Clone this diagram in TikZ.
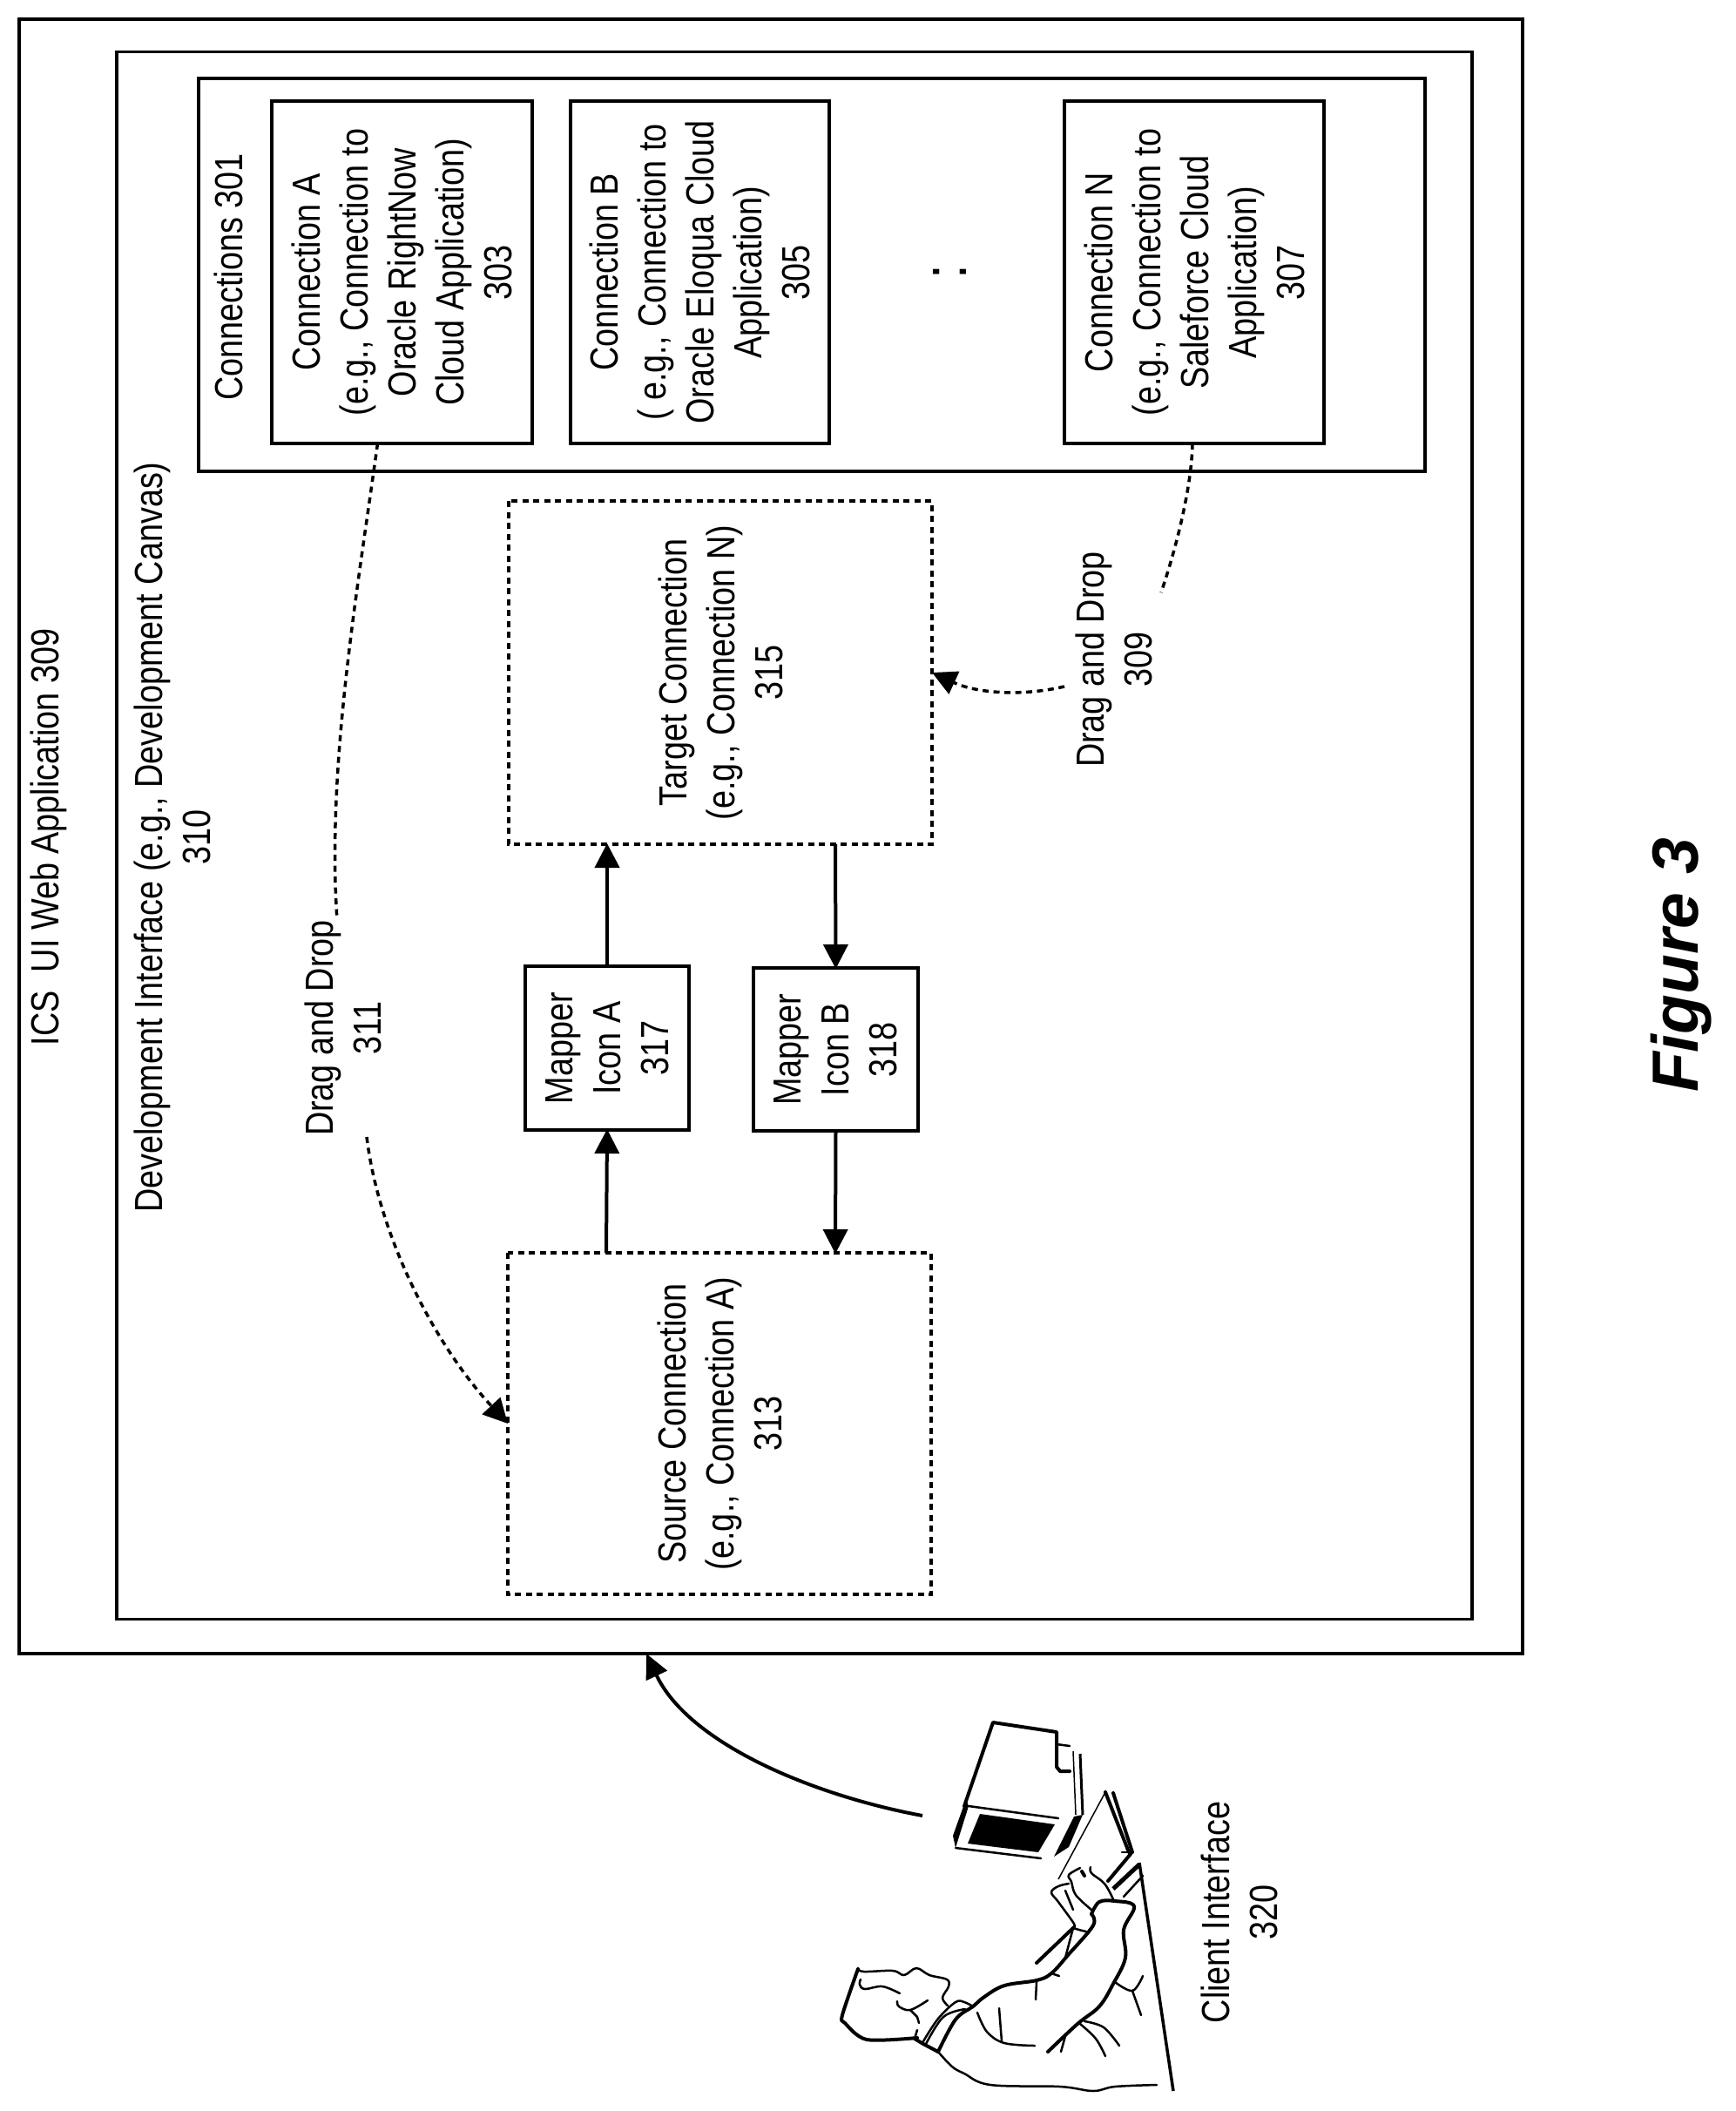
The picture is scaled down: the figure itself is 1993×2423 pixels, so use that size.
\documentclass[tikz,border=0pt]{standalone}
\usepackage{fontspec}
\setmainfont[FakeStretch=0.84]{Liberation Sans}
\newfontfamily\figfont{Liberation Sans}
\usetikzlibrary{arrows.meta,calc}
\tikzset{
 box/.style={draw,line width=3.5pt,rotate=90,inner sep=0pt,outer sep=0pt,align=center},
 dropbox/.style={box,line width=4pt,dash pattern=on 7pt off 5.5pt},
 label/.style={rotate=90,inner sep=0pt,align=center},
 flow/.style={line width=4pt,-{Triangle[length=28pt,width=28pt]},shorten >=-1pt},
 drag/.style={line width=3.5pt,dash pattern=on 7pt off 5.5pt},
 sketch/.style={line width=2.5pt,line cap=round,line join=round},
 thick sketch/.style={line width=4pt,line cap=round,line join=round}
}
\begin{document}
\begin{tikzpicture}[x=1pt,y=-1pt,every node/.style={font=\fontsize{45}{55}\selectfont}]
 \useasboundingbox (0,0) rectangle (1993,2423);
 \node [box,minimum width=1876pt,minimum height=1726pt] (ics) at (885,960) {};
 \node [box,minimum width=1799pt,minimum height=1556pt] (canvas) at (912,959) {};
 \node [box,minimum width=451pt,minimum height=1408pt] (connections) at (932,315.5) {};
 \node [box,minimum width=393pt,minimum height=299pt] (conna) at (461.5,312.5)
  {Connection A\\(e.g., Connection to\\Oracle RightNow\\Cloud Application)\\303};
 \node [box,minimum width=393pt,minimum height=297pt] (connb) at (803.5,312.5)
  {Connection B\\( e.g., Connection to\\Oracle Eloqua Cloud\\Application)\\305};
 \node [box,minimum width=393pt,minimum height=298pt] (connn) at (1371,312.5)
  {Connection N\\(e.g., Connection to\\Saleforce Cloud\\Application)\\307};
 \node [dropbox,minimum width=394pt,minimum height=486pt] (target) at (827,772)
  {Target Connection\\(e.g., Connection N)\\315};
 \node [dropbox,minimum width=392pt,minimum height=486pt] (source) at (826,1634)
  {Source Connection\\(e.g., Connection A)\\313};
 \node [box,minimum width=188pt,minimum height=188pt] (mappera) at (697,1203)
  {Mapper\\Icon A\\317};
 \node [box,minimum width=187pt,minimum height=189pt] (mapperb) at (959.5,1204.5)
  {Mapper\\Icon B\\318};
 \node [label] (icslabel) at (56,961) {ICS\ \ UI Web Application 309};
 \node [label] (canvaslabel) at (198,961) {Development Interface (e.g., Development Canvas)\\310};
 \node [label] (connlabel) at (262,318) {Connections 301};
 \node [label] (droplabela) at (394,1180) {Drag and Drop\\311};
 \node [label] (droplabeln) at (1279,757) {Drag and Drop\\309};
 \node [label] (clientlabel) at (1423,2195) {Client Interface\\320};
 \node [label,font=\fontsize{72}{72}\selectfont] (more) at (1090,312) {:};
 \node [label,font=\figfont\bfseries\itshape\fontsize{75}{75}\selectfont] (figlabel) at (1930,1108) {Figure 3};

 \draw [flow] ([xshift=-130pt]source.east) -- (mappera.west);
 \draw [flow] (mappera.east) -- ([xshift=-130pt]target.west);
 \draw [flow] ([xshift=132pt]target.west) -- (mapperb.east);
 \draw [flow] (mapperb.west) -- ([xshift=133pt]source.east);

 \coordinate (dragaend) at (387,1056);
 \coordinate (dragastart) at (421,1305);
 \coordinate (dragnend) at (1333,680);
 \coordinate (dragnstart) at (1222,788);
 \coordinate (monitor) at (1059,2084);
 \draw [drag] ([xshift=-28pt]conna.west) .. controls (410,680) and (375,880) .. (dragaend);
 \draw [drag,-{Triangle[length=28pt,width=28pt]}] (dragastart) .. controls (435,1420) and (500,1545) .. (source.north);
 \draw [drag] ([xshift=-2pt]connn.west) .. controls (1368,560) and (1350,630) .. (dragnend);
 \draw [drag,-{Triangle[length=28pt,width=28pt]}] (dragnstart) .. controls (1170,800) and (1120,795) .. (target.south);
 \draw [line width=4pt,-{Triangle[length=28pt,width=26pt]}] (monitor) .. controls (930,2060) and (790,2000) .. ([xshift=-143pt]ics.west);

 \draw [thick sketch] (1107,2073) -- (1140,1977) -- (1213,1988) -- (1213,2028) -- (1217,2033) -- (1228,2033);
 \draw [sketch] (1213,2002) -- (1228,2004);
 \fill (1109,2065) -- (1094,2107) -- (1097,2121) -- (1112,2073) -- cycle;
 \draw [sketch] (1112,2073) -- (1215,2087);
 \draw [sketch] (1097,2121) -- (1195,2133);
 \fill (1125,2082) -- (1211,2094) -- (1192,2126) -- (1111,2116) -- cycle;
 \fill (1243,2083) -- (1233,2085) -- (1210,2131) -- (1227,2120) -- cycle;
 \draw [line width=1.5pt] (1232,2010) -- (1235,2083);
 \draw [line width=3pt] (1240,2013) -- (1243,2083);

 \draw [line width=1.5pt] (1215,2157) -- (1269,2057);
 \draw [thick sketch] (1269,2057) -- (1296,2126);
 \draw [thick sketch] (1278,2058) -- (1300,2126);
 \draw [sketch] (1288,2126) -- (1300,2126);
 \draw [thick sketch] (1272,2159) -- (1298,2128);
 \draw [line width=5pt] (1278,2168) -- (1308,2140);
 \draw [sketch] (1290,2177) -- (1312,2153);
 \draw [line width=3.5pt] (1308,2138) -- (1347,2400);

 \draw [sketch] plot [smooth,tension=.6] coordinates {(1252,2143) (1253,2150) (1268,2162) (1278,2180)};
 \draw [sketch] plot [smooth,tension=.6] coordinates {(1240,2144) (1227,2152) (1230,2160) (1235,2175) (1253,2192)};
 \draw [sketch] plot [smooth,tension=.6] coordinates {(1227,2162) (1215,2165) (1207,2172) (1215,2183) (1233,2208) (1233,2213) (1247,2217)};
 \draw [sketch] (1223,2170) -- (1232,2192);
 \draw [thick sketch] (1242,2148) -- (1245,2153);
 \draw [thick sketch] plot [smooth,tension=.6] coordinates {(1253,2197) (1262,2183) (1280,2182) (1302,2188) (1290,2215) (1292,2247) (1278,2277) (1262,2303) (1237,2323) (1203,2355)};
 \draw [thick sketch] plot [smooth,tension=.6] coordinates {(1253,2197) (1255,2210) (1227,2243) (1207,2265) (1190,2273) (1153,2279) (1130,2292) (1117,2303) (1097,2318) (1077,2355)};
 \draw [thick sketch] (1233,2212) -- (1190,2253);
 \draw [sketch] (1232,2213) -- (1223,2247);
 \draw [sketch] (1190,2275) -- (1189,2295);
 \draw [sketch] (1207,2265) -- (1216,2268);
 \draw [sketch] plot [smooth,tension=.6] coordinates {(1122,2310) (1133,2332) (1153,2345) (1188,2348)};
 \draw [sketch] (1147,2305) -- (1150,2343);
 \draw [sketch] plot [smooth,tension=.6] coordinates {(1280,2275) (1300,2285) (1312,2268)};
 \draw [sketch] (1300,2285) -- (1310,2313);
 \draw [sketch] plot [smooth,tension=.6] coordinates {(1240,2323) (1258,2340) (1269,2360)};
 \draw [sketch] plot [smooth,tension=.6] coordinates {(1245,2320) (1267,2327) (1285,2348)};
 \draw [sketch] (1223,2337) -- (1218,2355);
 \draw [sketch] plot [smooth,tension=.6] coordinates {(1077,2355) (1093,2372) (1107,2380) (1137,2393) (1217,2395) (1255,2400) (1280,2395) (1328,2393)};

 \draw [thick sketch] plot [smooth,tension=.5] coordinates {(985,2260) (967,2313) (970,2322) (995,2341) (1053,2339)};
 \draw [sketch] plot [smooth,tension=.6] coordinates {(985,2260) (992,2263) (1025,2262) (1038,2267) (1052,2259) (1067,2267) (1087,2272) (1089,2280) (1082,2293) (1088,2302)};
 \draw [sketch] plot [smooth,tension=.6] coordinates {(988,2272) (987,2278) (993,2283) (1013,2280) (1033,2288)};
 \draw [sketch] plot [smooth,tension=.6] coordinates {(1030,2297) (1032,2303) (1045,2307) (1065,2296)};
 \draw [sketch] (1045,2307) -- (1053,2315) -- (1055,2322);
 \draw [sketch] (1053,2330) -- (1050,2340);
 \draw [thick sketch] (1050,2340) -- (1060,2346) -- (1077,2355);
 \draw [sketch] plot [smooth,tension=.6] coordinates {(1060,2343) (1077,2317) (1097,2298) (1107,2298) (1117,2303)};
 \draw [sketch] plot [smooth,tension=.6] coordinates {(1063,2346) (1083,2315) (1108,2306)};
\end{tikzpicture}
\end{document}
